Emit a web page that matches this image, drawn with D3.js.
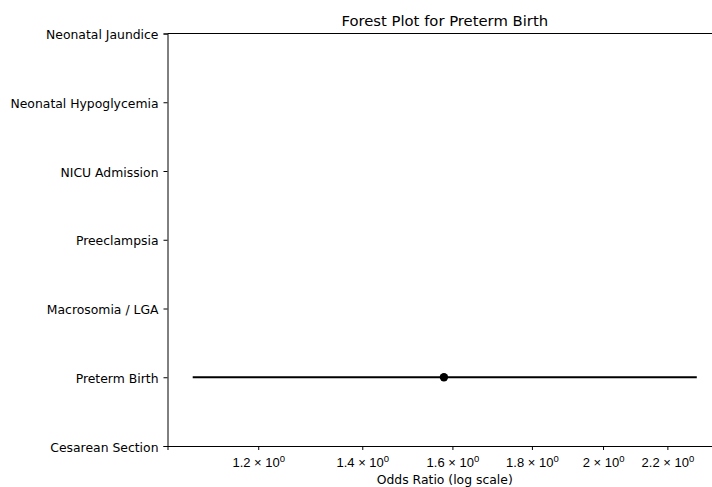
<!DOCTYPE html>
<html>
<head>
<meta charset="utf-8">
<script src="https://cdn.jsdelivr.net/npm/d3@7"></script>
<style>
  body { margin: 0; background: #fff; }
  svg { display: block; font-family: "DejaVu Sans", sans-serif; }
</style>
</head>
<body>
<div id="chart"></div>
<script>
// outcomes, bottom to top
const outcomes = ['Cesarean Section', 'Preterm Birth', 'Macrosomia / LGA', 'Preeclampsia',
    'NICU Admission', 'Neonatal Hypoglycemia', 'Neonatal Jaundice'];

// only preterm birth has an estimate
const estimates = [
    {outcome: 'Preterm Birth', or: 1.58, lower: 1.089, upper: 2.298}
];

const xTickValues = [1.2, 1.4, 1.6, 1.8, 2.0, 2.2];
const xTickMantissa = ['1.2', '1.4', '1.6', '1.8', '2', '2.2'];

const width = 712, height = 487;
const margin = {top: 33.5, right: -10, bottom: 41, left: 167.5};

const svg = d3.select('#chart').append('svg')
    .attr('width', width)
    .attr('height', height);

// matplotlib style log limits, 5% padding in log space
let lo = Math.log(d3.min(estimates, d => d.lower));
let hi = Math.log(d3.max(estimates, d => d.upper));
let pad = (hi - lo) * 0.05;

const x = d3.scaleLog()
    .domain([Math.exp(lo - pad), Math.exp(hi + pad)])
    .range([margin.left, width - margin.right]);

const y = d3.scaleLinear()
    .domain([0, outcomes.length - 1])
    .range([height - margin.bottom, margin.top]);

// x axis
const xAxis = d3.axisBottom(x)
    .tickValues(xTickValues)
    .tickSize(4)
    .tickFormat('');

const gx = svg.append('g')
    .attr('transform', `translate(0,${height - margin.bottom})`)
    .call(xAxis);
gx.select('.domain').attr('stroke', '#000').attr('stroke-width', 1);
gx.selectAll('.tick line').attr('stroke', '#000');

gx.selectAll('.tick').each(function(d, i) {
    let t = d3.select(this).append('text')
        .attr('y', 21)
        .attr('fill', '#000')
        .attr('text-anchor', 'middle')
        .style('font-size', '13px');
    t.append('tspan').text(xTickMantissa[i] + ' \u00d7 10');
    t.append('tspan').text('0')
        .attr('dy', -5.5)
        .style('font-size', '9.5px');
});

svg.append('text')
    .attr('x', (margin.left + width - margin.right) / 2)
    .attr('y', height - 3)
    .attr('text-anchor', 'middle')
    .style('font-size', '12.4px')
    .text('Odds Ratio (log scale)');

// y axis
const yAxis = d3.axisLeft(y)
    .tickValues(d3.range(outcomes.length))
    .tickSize(4)
    .tickPadding(5)
    .tickFormat(i => outcomes[i]);

const gy = svg.append('g')
    .attr('transform', `translate(${margin.left},0)`)
    .call(yAxis);
gy.select('.domain').attr('stroke', '#000');
gy.selectAll('.tick line').attr('stroke', '#000');
gy.selectAll('.tick text')
    .attr('fill', '#000')
    .attr('dy', '0.42em')
    .style('font-size', '12.4px')
    .style('font-family', '"DejaVu Sans", sans-serif');

// top spine
svg.append('line')
    .attr('x1', margin.left).attr('x2', width)
    .attr('y1', margin.top).attr('y2', margin.top)
    .attr('stroke', '#000');

// title
svg.append('text')
    .attr('x', (margin.left + width - margin.right) / 2)
    .attr('y', 26)
    .attr('text-anchor', 'middle')
    .style('font-size', '14.8px')
    .text('Forest Plot for Preterm Birth');

// confidence intervals and points
const rows = svg.append('g').selectAll('g')
    .data(estimates)
    .join('g');

rows.append('line')
    .attr('x1', d => x(d.lower))
    .attr('x2', d => x(d.upper))
    .attr('y1', d => y(outcomes.indexOf(d.outcome)))
    .attr('y2', d => y(outcomes.indexOf(d.outcome)))
    .attr('stroke', '#000')
    .attr('stroke-width', 2);

rows.append('circle')
    .attr('cx', d => x(d.or))
    .attr('cy', d => y(outcomes.indexOf(d.outcome)))
    .attr('r', 4.2)
    .attr('fill', '#000');
</script>
</body>
</html>
